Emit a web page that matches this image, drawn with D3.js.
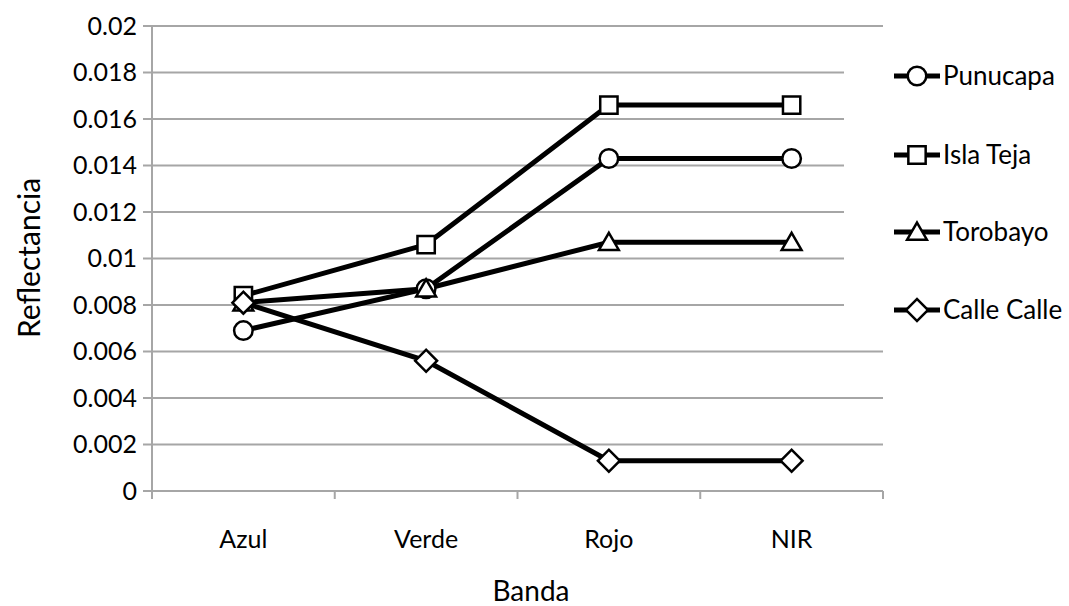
<!DOCTYPE html>
<html><head><meta charset="utf-8">
<script src="https://cdn.jsdelivr.net/npm/d3@7"></script>
<style>
body { margin: 0; background: #fff; }
text { font-family: Lato, "Open Sans", sans-serif; fill: #000; }
.grid line { stroke: #a6a6a6; stroke-width: 2px; }
</style></head><body>
<svg id="chart" width="1069" height="606"></svg>
<script>
const categories = ["Azul", "Verde", "Rojo", "NIR"];
const punucapa = [0.0069, 0.0087, 0.0143, 0.0143];
const islaTeja = [0.0084, 0.0106, 0.0166, 0.0166];
const torobayo = [0.0081, 0.0087, 0.0107, 0.0107];
const calleCalle = [0.0081, 0.0056, 0.0013, 0.0013];
const yTicks = [0, 0.002, 0.004, 0.006, 0.008, 0.01, 0.012, 0.014, 0.016, 0.018, 0.02];

const series = [
    {name: "Punucapa", values: punucapa, symbol: "circle"},
    {name: "Isla Teja", values: islaTeja, symbol: "square"},
    {name: "Torobayo", values: torobayo, symbol: "triangle"},
    {name: "Calle Calle", values: calleCalle, symbol: "diamond"}
];

const svg = d3.select("#chart");
const plotLeft = 152, plotRight = 883, plotTop = 26, plotBottom = 491;

const x = d3.scaleBand().domain(categories).range([plotLeft, plotRight]);
const y = d3.scaleLinear().domain([0, 0.02]).range([plotBottom, plotTop]);

// gridlines
const grid = svg.append("g").attr("class", "grid");
grid.selectAll("line").data(yTicks).enter().append("line")
    .attr("x1", plotLeft - 9).attr("x2", plotRight)
    .attr("y1", d => y(d)).attr("y2", d => y(d));

// axes
svg.append("line").attr("x1", plotLeft).attr("x2", plotLeft).attr("y1", plotTop).attr("y2", plotBottom + 8)
    .attr("stroke", "#a6a6a6").attr("stroke-width", 2);
const xTickPos = categories.map(c => x(c)).concat([plotRight]);
svg.append("g").selectAll("line").data(xTickPos.slice(1)).enter().append("line")
    .attr("x1", d => d).attr("x2", d => d).attr("y1", plotBottom).attr("y2", plotBottom + 8)
    .attr("stroke", "#a6a6a6").attr("stroke-width", 2);

svg.append("g").selectAll("text").data(yTicks).enter().append("text")
    .attr("x", plotLeft - 15).attr("y", d => y(d)).attr("dy", "0.35em")
    .attr("text-anchor", "end").attr("font-size", 25)
    .text(d => d === 0 ? "0" : d3.format(".3~f")(d));

svg.append("g").selectAll("text").data(categories).enter().append("text")
    .attr("x", d => x(d) + x.bandwidth() / 2).attr("y", 548)
    .attr("text-anchor", "middle").attr("font-size", 25)
    .text(d => d);

svg.append("text").attr("x", 531).attr("y", 601).attr("text-anchor", "middle")
    .attr("font-size", 28).text("Banda");
svg.append("text").attr("transform", "translate(40,258) rotate(-90)")
    .attr("text-anchor", "middle").attr("font-size", 30).text("Reflectancia");

const symbols = {
    circle: d3.symbolCircle, square: d3.symbolSquare,
    triangle: d3.symbolTriangle, diamond: d3.symbolSquare
};
const sizes = {circle: 270, square: 300, triangle: 170, diamond: 240};

function drawMarker(g, sym, cx, cy) {
    let tf = `translate(${cx},${cy})`;
    if (sym === "triangle") tf += " translate(0,2)";
    if (sym === "diamond") tf += " rotate(45)";
    g.append("path")
        .attr("d", d3.symbol().type(symbols[sym]).size(sizes[sym])())
        .attr("transform", tf)
        .attr("fill", "#fff").attr("stroke", "#000").attr("stroke-width", 2.5);
}

const line = d3.line().x((d, i) => x(categories[i]) + x.bandwidth() / 2).y(d => y(d));

series.forEach(s => {
    svg.append("path").datum(s.values).attr("d", line)
        .attr("fill", "none").attr("stroke", "#000").attr("stroke-width", 5);
});
series.forEach(s => {
    const g = svg.append("g");
    s.values.forEach((v, i) => drawMarker(g, s.symbol, x(categories[i]) + x.bandwidth() / 2, y(v)));
});

// legend (white box covering gridlines)
svg.append("rect").attr("x", 844).attr("y", 45).attr("width", 225).attr("height", 285).attr("fill", "#fff");
const legendY = [76, 155, 232, 310];
series.forEach((s, i) => {
    const g = svg.append("g");
    g.append("line").attr("x1", 894).attr("x2", 940).attr("y1", legendY[i]).attr("y2", legendY[i])
        .attr("stroke", "#000").attr("stroke-width", 5);
    drawMarker(g, s.symbol, 917, legendY[i]);
    g.append("text").attr("x", 943).attr("y", legendY[i]).attr("dy", "0.36em")
        .attr("font-size", 26).text(s.name);
});
</script></body></html>
